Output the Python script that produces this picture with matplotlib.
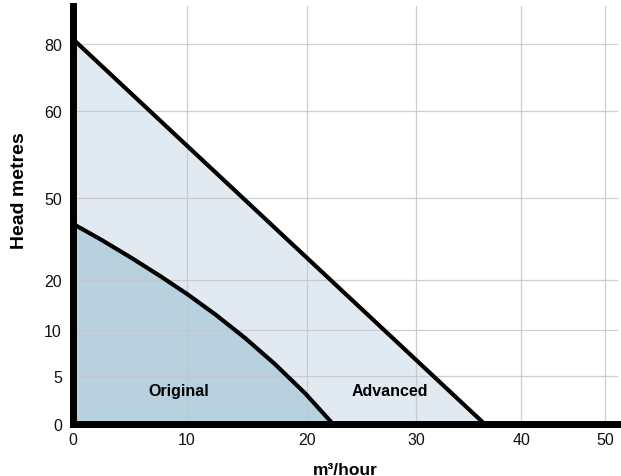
import numpy as np
import matplotlib
matplotlib.use("Agg")
import matplotlib.pyplot as plt

# chart is an infographic: tick labels sit on unevenly spaced gridlines,
# so positions are kept in plot units and labels are separate strings
x_tick_pos = [0, 10, 20.5, 30.1, 39.3, 46.7]
x_tick_labels = ['0', '10', '20', '30', '40', '50']
y_tick_pos = [0, 10, 19.6, 30, 47.1, 65.2, 79.2]
y_tick_labels = ['0', '5', '10', '20', '50', '60', '80']

# Advanced pump curve (straight line)
adv_x = [0, 36.1]
adv_y = [80.2, 0]

# Original pump curve
orig_x = [0, 2.4, 5.0, 7.6, 10.0, 12.5, 15.1, 17.7, 20.4, 22.8]
orig_y = [41.7, 38.5, 34.8, 30.9, 27.1, 22.8, 17.9, 12.5, 6.3, 0]

W, H = 621, 477
fig = plt.figure(figsize=(W / 100, H / 100), dpi=100)
ax = fig.add_axes([73 / W, (H - 425) / H, (618 - 73) / W, (425 - 7) / H])
ax.set_xlim(0, 47.8)
ax.set_ylim(0, 87.1)

ax.fill_between(adv_x, adv_y, 0, color='#e2eaf1', lw=0, zorder=1)
ax.fill_between(orig_x, orig_y, 0, color='#b8d1df', lw=0, zorder=1.1)
ax.plot(adv_x, adv_y, color='black', lw=3, solid_capstyle='butt', zorder=3)
ax.plot(orig_x, orig_y, color='black', lw=3, solid_capstyle='butt',
        solid_joinstyle='round', zorder=3)

ax.set_axisbelow('line')
ax.grid(True, color='#c4c6cc', lw=0.9, alpha=0.85)

ax.set_xticks(x_tick_pos)
ax.set_xticklabels(x_tick_labels)
ax.set_yticks(y_tick_pos)
ax.set_yticklabels(y_tick_labels)
ax.tick_params(length=0, labelsize=11.5, labelcolor='#111111')
ax.tick_params(axis='x', pad=6)
ax.tick_params(axis='y', pad=8)
for lab in ax.get_xticklabels() + ax.get_yticklabels():
    lab.set_family(['Liberation Sans', 'DejaVu Sans'])

for s in ['top', 'right']:
    ax.spines[s].set_visible(False)
for s in ['left', 'bottom']:
    ax.spines[s].set_linewidth(5)
    ax.spines[s].set_color('black')
    ax.spines[s].set_zorder(4)

ax.set_ylabel('Head metres', fontsize=14, fontweight='bold',
              family=['Liberation Sans', 'DejaVu Sans'])
ax.yaxis.set_label_coords(-0.083, 0.56)
ax.set_xlabel('m³/hour', fontsize=12.5, fontweight='bold',
              family=['Liberation Sans', 'DejaVu Sans'])
ax.xaxis.set_label_coords(0.499, -0.09)

narrow = ['Liberation Sans Narrow', 'Liberation Sans', 'DejaVu Sans']
ax.text(9.3, 6.9, 'Original', ha='center', va='center', fontsize=11.5,
        fontweight='bold', family=narrow, zorder=5)
ax.text(27.8, 6.9, 'Advanced', ha='center', va='center', fontsize=11.5,
        fontweight='bold', family=narrow, zorder=5)

fig.savefig('out.png', dpi=100)
